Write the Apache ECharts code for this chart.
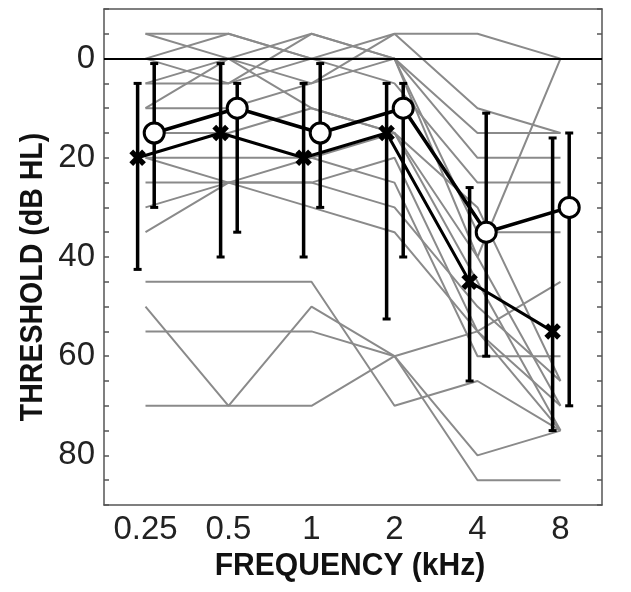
<!DOCTYPE html>
<html>
<head>
<meta charset="utf-8">
<script src="https://cdn.jsdelivr.net/npm/echarts@6/dist/echarts.min.js"></script>
<style>
html,body{margin:0;padding:0;background:#fff;}
#chart{width:631px;height:592px;}
</style>
</head>
<body>
<div id="chart"></div>
<script>
// ---- data ----
const freqLabels = ['0.25', '0.5', '1', '2', '4', '8'];

// individual thresholds (dB HL), one array per listener, at 0.25..8 kHz
const subjects = [
  [-5, -5, 0, -5, -5, 0],
  [-5, 0, -5, 0, 15, 15],
  [0, -5, 0, 0, 20, 20],
  [0, 5, -5, 0, 40, 0],
  [5, 0, 5, -5, 10, 15],
  [5, 5, 0, 5, 25, 25],
  [10, 10, 5, 0, 35, 35],
  [10, 0, 10, 15, 30, 65],
  [15, 15, 10, 15, 40, 70],
  [20, 20, 20, 15, 45, 75],
  [20, 25, 20, 25, 60, 60],
  [25, 25, 25, 20, 55, 75],
  [30, 25, 25, 30, 50, 65],
  [35, 25, 30, 35, 55, 70],
  [45, 45, 45, 70, 65, 75],
  [50, 70, 50, 60, 80, 75],
  [55, 55, 55, 60, 85, 85],
  [70, 70, 70, 60, 55, 45]
];

// group summary (crosses)
const crossMean = [20, 15, 20, 15, 45, 55];
const crossLow  = [5, 1, 5, 5, 26, 16];
const crossHigh = [42.5, 40, 40, 52.5, 65, 75];

// group summary (circles)
const circleMean = [15, 10, 15, 10, 35, 30];
const circleLow  = [1, 5, 1, 5, 11, 15];
const circleHigh = [30, 35, 30, 40, 60, 70];

const yTickLabels = [0, 20, 40, 60, 80];

// ---- chart ----
const CROSS_OFF = -0.095, CIRCLE_OFF = 0.105;
const chart = echarts.init(document.getElementById('chart'), null, {renderer: 'canvas'});
const FONT = 'Liberation Sans';
const axisColor = '#555';

const series = [];
subjects.forEach(function (s) {
  series.push({
    type: 'line', xAxisIndex: 2, yAxisIndex: 0,
    data: s.map(function (v, i) { return [i, v]; }),
    symbol: 'none', silent: true, z: 2,
    lineStyle: {color: '#8a8a8a', width: 2}
  });
});

// zero reference line
series.push({
  type: 'line', xAxisIndex: 2, yAxisIndex: 0, data: [], z: 3,
  markLine: {silent: true, symbol: 'none', label: {show: false},
    lineStyle: {color: '#000', width: 2, type: 'solid'},
    data: [{yAxis: 0}]}
});

function errSeries(means, lows, highs, off) {
  return {
    type: 'custom', xAxisIndex: 2, yAxisIndex: 0, z: 5, silent: true,
    data: means.map(function (m, i) { return [i + off, lows[i], highs[i]]; }),
    renderItem: function (params, api) {
      const x = api.value(0);
      const p1 = api.coord([x, api.value(1)]);
      const p2 = api.coord([x, api.value(2)]);
      const cw = 4;
      return {type: 'group', children: [
        {type: 'line', shape: {x1: p1[0], y1: p1[1], x2: p2[0], y2: p2[1]}, style: {stroke: '#000', lineWidth: 3.5}},
        {type: 'rect', shape: {x: p1[0] - cw, y: p1[1] - 1.5, width: 2 * cw, height: 3}, style: {fill: '#000'}},
        {type: 'rect', shape: {x: p2[0] - cw, y: p2[1] - 1.5, width: 2 * cw, height: 3}, style: {fill: '#000'}}
      ]};
    }
  };
}
series.push(errSeries(crossMean, crossLow, crossHigh, CROSS_OFF));
series.push(errSeries(circleMean, circleLow, circleHigh, CIRCLE_OFF));

series.push({
  type: 'line', xAxisIndex: 2, yAxisIndex: 0, z: 6, silent: true,
  data: crossMean.map(function (v, i) { return [i + CROSS_OFF, v]; }),
  symbol: 'path://M3.5,0H6.5V3.5H10V6.5H6.5V10H3.5V6.5H0V3.5H3.5Z', symbolSize: 18, symbolRotate: 45,
  itemStyle: {color: '#000'},
  lineStyle: {color: '#000', width: 3}
});
series.push({
  type: 'line', xAxisIndex: 2, yAxisIndex: 0, z: 7, silent: true,
  data: circleMean.map(function (v, i) { return [i + CIRCLE_OFF, v]; }),
  symbol: 'circle', symbolSize: 20,
  itemStyle: {color: '#fff', borderColor: '#000', borderWidth: 3},
  lineStyle: {color: '#000', width: 3.5}
});

const option = {
  animation: false,
  backgroundColor: '#fff',
  grid: {left: 104, right: 29, top: 9, bottom: 87, containLabel: false},
  xAxis: [
    {type: 'category', data: freqLabels, position: 'bottom', boundaryGap: true,
      axisLine: {onZero: false, lineStyle: {color: axisColor, width: 1.5}},
      axisTick: {inside: true, alignWithLabel: true, length: 5, lineStyle: {color: axisColor, width: 1.5}},
      axisLabel: {fontFamily: FONT, fontSize: 33, color: '#222', margin: 8, interval: 0},
      splitLine: {show: false}},
    {type: 'category', data: freqLabels, position: 'top', boundaryGap: true,
      axisLine: {onZero: false, lineStyle: {color: axisColor, width: 1.5}},
      axisTick: {inside: true, alignWithLabel: true, length: 5, lineStyle: {color: axisColor, width: 1.5}},
      axisLabel: {show: false}, splitLine: {show: false}},
    {type: 'value', min: -0.5, max: 5.5, show: false, splitLine: {show: false}}
  ],
  yAxis: [
    {type: 'value', inverse: true, min: -10, max: 90, interval: 5, position: 'left',
      axisLine: {show: true, onZero: false, lineStyle: {color: axisColor, width: 1.5}},
      axisTick: {show: true, inside: true, length: 5, lineStyle: {color: axisColor, width: 1.5}},
      axisLabel: {fontFamily: FONT, fontSize: 33, color: '#222', margin: 9,
        formatter: function (v) { return yTickLabels.indexOf(v) >= 0 ? String(v) : ''; }},
      splitLine: {show: false}},
    {type: 'value', inverse: true, min: -10, max: 90, interval: 5, position: 'right',
      axisLine: {show: true, onZero: false, lineStyle: {color: axisColor, width: 1.5}},
      axisTick: {show: true, inside: true, length: 5, lineStyle: {color: axisColor, width: 1.5}},
      axisLabel: {show: false}, splitLine: {show: false}}
  ],
  graphic: [
    {type: 'text', x: 350, y: 566, scaleX: 0.97,
      style: {text: 'FREQUENCY (kHz)', font: 'bold 31px "Liberation Sans"', fill: '#111', align: 'center', verticalAlign: 'middle'}},
    {type: 'text', x: 33, y: 277, rotation: Math.PI / 2, scaleX: 0.92,
      style: {text: 'THRESHOLD (dB HL)', font: 'bold 31px "Liberation Sans"', fill: '#111', align: 'center', verticalAlign: 'middle'}}
  ],
  series: series
};
chart.setOption(option);
</script>
</body>
</html>
